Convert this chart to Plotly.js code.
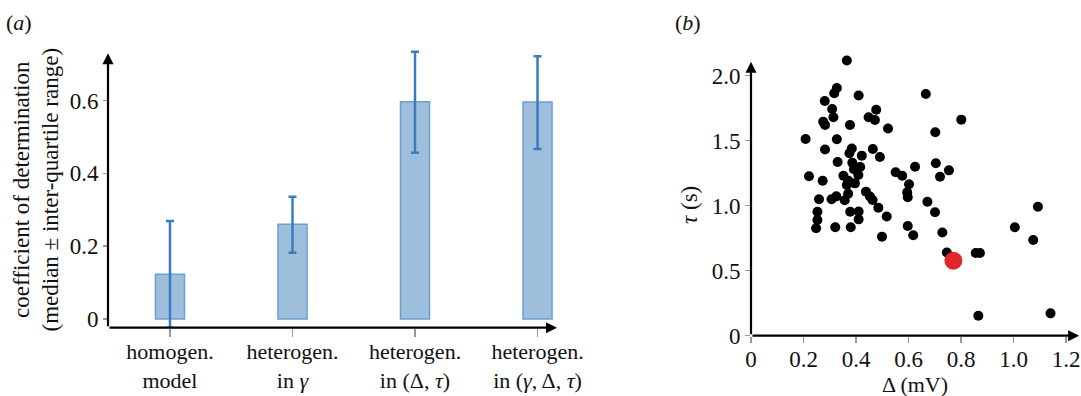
<!DOCTYPE html>
<html>
<head>
<meta charset="utf-8">
<script src="https://cdn.plot.ly/plotly-3.0.1.min.js"></script>
<style>html,body{margin:0;padding:0;background:#fff;}#chart{width:1081px;height:396px;}</style>
</head>
<body>
<div id="chart"></div>
<script>
// ---- Panel (a): coefficient of determination ----
var categories = [
  "homogen.<br>model",
  "heterogen.<br>in <i>γ</i>",
  "heterogen.<br>in (Δ, <i>τ</i>)",
  "heterogen.<br>in (<i>γ</i>, Δ, <i>τ</i>)"
];
var medians    = [0.123, 0.260, 0.597, 0.596];
var upperQ     = [0.269, 0.336, 0.734, 0.722];
var lowerQ     = [-0.024, 0.182, 0.457, 0.467];
var aTickVals  = [0, 0.2, 0.4, 0.6];
var aTickText  = ["0", "0.2", "0.4", "0.6"];

// ---- Panel (b): Delta vs tau ----
var deltaVals = [
  0.365, 0.327, 0.317, 0.410, 0.666, 0.281, 0.309, 0.477, 0.314, 0.448,
  0.472, 0.801, 0.275, 0.282, 0.377, 0.522, 0.702, 0.208, 0.327, 0.282,
  0.384, 0.375, 0.464, 0.422, 0.491, 0.330, 0.386, 0.416, 0.392, 0.625,
  0.704, 0.754, 0.551, 0.576, 0.720, 0.221, 0.352, 0.409, 0.273, 0.371,
  0.365, 0.396, 0.602, 0.438, 0.453, 0.463, 0.595, 0.597, 0.259, 0.307,
  0.325, 0.357, 0.370, 0.485, 0.672, 0.253, 0.253, 0.248, 0.321, 0.378,
  0.410, 0.410, 0.380, 0.517, 0.701, 0.499, 0.597, 0.618, 0.729, 0.746,
  0.856, 0.872, 0.866, 1.005, 1.075, 1.093, 1.141
];
var tauVals = [
  2.117, 1.905, 1.865, 1.848, 1.859, 1.805, 1.744, 1.738, 1.680, 1.680,
  1.659, 1.662, 1.646, 1.621, 1.621, 1.594, 1.565, 1.513, 1.511, 1.432,
  1.440, 1.403, 1.436, 1.385, 1.375, 1.336, 1.331, 1.298, 1.280, 1.300,
  1.326, 1.272, 1.257, 1.231, 1.223, 1.226, 1.230, 1.236, 1.192, 1.192,
  1.159, 1.172, 1.165, 1.108, 1.071, 1.044, 1.103, 1.065, 1.049, 1.049,
  1.072, 1.042, 1.092, 0.985, 1.031, 0.954, 0.890, 0.826, 0.834, 0.954,
  0.955, 0.895, 0.834, 0.917, 0.949, 0.762, 0.844, 0.773, 0.794, 0.640,
  0.636, 0.636, 0.154, 0.834, 0.736, 0.992, 0.172
];
var highlightDelta = [0.771];
var highlightTau   = [0.577];
var bXTickVals = [0, 0.2, 0.4, 0.6, 0.8, 1.0, 1.2];
var bXTickText = ["0", "0.2", "0.4", "0.6", "0.8", "1.0", "1.2"];
var bYTickVals = [0, 0.5, 1.0, 1.5, 2.0];
var bYTickText = ["0", "0.5", "1.0", "1.5", "2.0"];

var FONT = "'Liberation Serif', 'Times New Roman', Times, serif";
var W = 1081, H = 396;
function px(x){ return x / W; }
function py(y){ return 1 - y / H; }

var errPlus  = medians.map(function(m, i){ return upperQ[i] - m; });
var errMinus = medians.map(function(m, i){ return m - lowerQ[i]; });

var traces = [
  {
    type: "bar", x: categories, y: medians, xaxis: "x", yaxis: "y",
    width: 0.237,
    marker: { color: "#9ebfdc", line: { color: "#6a9fd3", width: 1.5 } },
    error_y: { type: "data", symmetric: false, array: errPlus, arrayminus: errMinus,
               color: "#3a7cbd", thickness: 2.5, width: 4 },
    cliponaxis: false, hoverinfo: "skip", showlegend: false
  },
  {
    type: "scatter", mode: "markers", x: deltaVals, y: tauVals, xaxis: "x2", yaxis: "y2",
    marker: { color: "#000000", size: 10 }, cliponaxis: false, showlegend: false
  },
  {
    type: "scatter", mode: "markers", x: highlightDelta, y: highlightTau, xaxis: "x2", yaxis: "y2",
    marker: { color: "#e3242b", size: 18 }, cliponaxis: false, showlegend: false
  }
];

var tickFont = { family: FONT, size: 23, color: "#111" };

var layout = {
  width: W, height: H,
  margin: { l: 0, r: 0, t: 0, b: 0 },
  paper_bgcolor: "#ffffff", plot_bgcolor: "#ffffff",
  showlegend: false,
  font: { family: FONT, color: "#111" },
  xaxis: {
    domain: [px(108), px(600)], anchor: "y",
    type: "category", range: [-0.506, 3.51],
    showgrid: false, zeroline: false, showline: false,
    ticks: "outside", ticklen: 8, tickwidth: 1.5, tickcolor: "#999",
    ticklabelstandoff: -4,
    tickfont: { family: FONT, size: 22, color: "#111" }, fixedrange: true
  },
  yaxis: {
    domain: [py(327.7), py(40)], anchor: "x",
    range: [-0.0239, 0.7665],
    tickvals: aTickVals, ticktext: aTickText,
    showgrid: false, zeroline: false, showline: false,
    ticks: "outside", ticklen: 4, tickwidth: 1.5, tickcolor: "#999",
    tickfont: tickFont, fixedrange: true
  },
  xaxis2: {
    domain: [px(751), 1], anchor: "y2",
    range: [0, 1.2571],
    tickvals: bXTickVals, ticktext: bXTickText,
    showgrid: false, zeroline: false, showline: false,
    ticks: "outside", ticklen: 6, tickwidth: 1.5, tickcolor: "#999",
    ticklabelstandoff: -3,
    ticklabeloverflow: "allow",
    tickfont: tickFont, fixedrange: true
  },
  yaxis2: {
    domain: [py(335.7), py(40)], anchor: "x2",
    range: [0, 2.2746],
    tickvals: bYTickVals, ticktext: bYTickText,
    showgrid: false, zeroline: false, showline: false,
    ticks: "outside", ticklen: 5, tickwidth: 1.5, tickcolor: "#999",
    tickfont: tickFont, fixedrange: true
  },
  annotations: [
    // axis lines with arrowheads
    { xref: "x", yref: "y", axref: "x", ayref: "y", x: 3.159, y: -0.0239, ax: -0.506, ay: -0.0239,
      text: "", showarrow: true, arrowhead: 2, arrowsize: 1, arrowwidth: 2.2, arrowcolor: "#000" },
    { xref: "x", yref: "y", axref: "x", ayref: "y", x: -0.506, y: 0.730, ax: -0.506, ay: -0.0239,
      text: "", showarrow: true, arrowhead: 2, arrowsize: 1, arrowwidth: 2.2, arrowcolor: "#000" },
    { xref: "x2", yref: "y2", axref: "x2", ayref: "y2", x: 1.25, y: 0, ax: 0, ay: 0,
      text: "", showarrow: true, arrowhead: 2, arrowsize: 1, arrowwidth: 2.2, arrowcolor: "#000" },
    { xref: "x2", yref: "y2", axref: "x2", ayref: "y2", x: 0, y: 2.108, ax: 0, ay: 0,
      text: "", showarrow: true, arrowhead: 2, arrowsize: 1, arrowwidth: 2.2, arrowcolor: "#000" },
    // panel labels
    { xref: "paper", yref: "paper", x: px(19), y: py(22), xanchor: "center", yanchor: "middle",
      text: "(<i>a</i>)", showarrow: false, font: { family: FONT, size: 22, color: "#111" } },
    { xref: "paper", yref: "paper", x: px(688), y: py(23), xanchor: "center", yanchor: "middle",
      text: "(<i>b</i>)", showarrow: false, font: { family: FONT, size: 22, color: "#111" } },
    // axis titles
    { xref: "paper", yref: "paper", x: px(36), y: py(189.5), xanchor: "center", yanchor: "middle",
      textangle: -90, text: "coefficient of determination<br>(median ± inter-quartile range)",
      showarrow: false, font: { family: FONT, size: 23, color: "#111" } },
    { xref: "paper", yref: "paper", x: px(690), y: py(205), xanchor: "center", yanchor: "middle",
      textangle: -90, text: "<i>τ</i> (s)",
      showarrow: false, font: { family: FONT, size: 23, color: "#111" } },
    { xref: "paper", yref: "paper", x: px(915), y: 0, xanchor: "center", yanchor: "bottom",
      text: "Δ (mV)", yshift: -3,
      showarrow: false, font: { family: FONT, size: 22, color: "#111" } }
  ]
};

Plotly.newPlot("chart", traces, layout, { staticPlot: true, displayModeBar: false });
</script>
</body>
</html>
